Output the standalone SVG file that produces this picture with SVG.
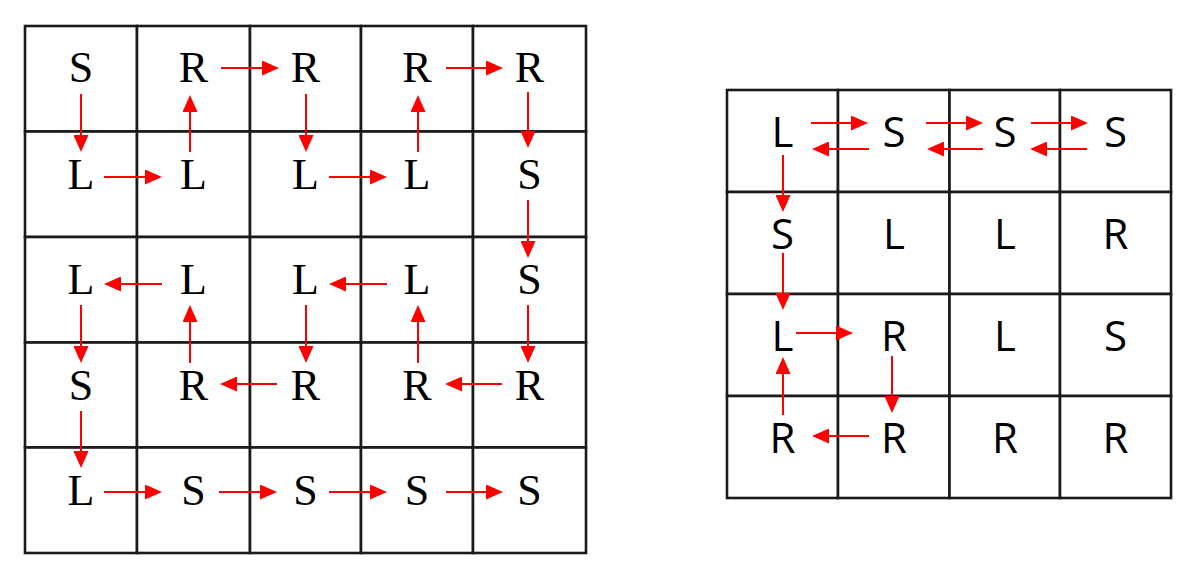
<svg xmlns="http://www.w3.org/2000/svg" width="1200" height="579" viewBox="0 0 1200 579">
<style>
.cell{fill:#fff;stroke:#1a1a1a;stroke-width:2.6}
.l{font-family:"Liberation Serif","Times New Roman",serif;font-size:44px;fill:#000;text-anchor:middle}
.r{font-family:"Open Sans","Noto Sans",sans-serif;font-size:42px;fill:#000;text-anchor:middle}
.a line{stroke:#ff0000;stroke-width:2;marker-end:url(#ah)}
</style>
<defs>
<marker id="ah" markerUnits="userSpaceOnUse" markerWidth="17" markerHeight="15" refX="9" refY="7.5" orient="auto"><path d="M0,0 L17,7.5 L0,15 z" fill="#ff0000"/></marker>
</defs>
<rect width="1200" height="579" fill="#fff"/>
<g id="left-grid">
<g id="L-r1c1"><rect class="cell" x="25" y="26" width="112" height="105.5"/><text class="l" x="81" y="82">S</text></g>
<g id="L-r1c2"><rect class="cell" x="137" y="26" width="113" height="105.5"/><text class="l" x="193.5" y="82">R</text></g>
<g id="L-r1c3"><rect class="cell" x="250" y="26" width="111" height="105.5"/><text class="l" x="305.5" y="82">R</text></g>
<g id="L-r1c4"><rect class="cell" x="361" y="26" width="112" height="105.5"/><text class="l" x="417" y="82">R</text></g>
<g id="L-r1c5"><rect class="cell" x="473" y="26" width="113" height="105.5"/><text class="l" x="529.5" y="82">R</text></g>
<g id="L-r2c1"><rect class="cell" x="25" y="131.5" width="112" height="105.5"/><text class="l" x="81" y="189">L</text></g>
<g id="L-r2c2"><rect class="cell" x="137" y="131.5" width="113" height="105.5"/><text class="l" x="193.5" y="189">L</text></g>
<g id="L-r2c3"><rect class="cell" x="250" y="131.5" width="111" height="105.5"/><text class="l" x="305.5" y="189">L</text></g>
<g id="L-r2c4"><rect class="cell" x="361" y="131.5" width="112" height="105.5"/><text class="l" x="417" y="189">L</text></g>
<g id="L-r2c5"><rect class="cell" x="473" y="131.5" width="113" height="105.5"/><text class="l" x="529.5" y="189">S</text></g>
<g id="L-r3c1"><rect class="cell" x="25" y="237" width="112" height="105.5"/><text class="l" x="81" y="294">L</text></g>
<g id="L-r3c2"><rect class="cell" x="137" y="237" width="113" height="105.5"/><text class="l" x="193.5" y="294">L</text></g>
<g id="L-r3c3"><rect class="cell" x="250" y="237" width="111" height="105.5"/><text class="l" x="305.5" y="294">L</text></g>
<g id="L-r3c4"><rect class="cell" x="361" y="237" width="112" height="105.5"/><text class="l" x="417" y="294">L</text></g>
<g id="L-r3c5"><rect class="cell" x="473" y="237" width="113" height="105.5"/><text class="l" x="529.5" y="294">S</text></g>
<g id="L-r4c1"><rect class="cell" x="25" y="342.5" width="112" height="105"/><text class="l" x="81" y="400">S</text></g>
<g id="L-r4c2"><rect class="cell" x="137" y="342.5" width="113" height="105"/><text class="l" x="193.5" y="400">R</text></g>
<g id="L-r4c3"><rect class="cell" x="250" y="342.5" width="111" height="105"/><text class="l" x="305.5" y="400">R</text></g>
<g id="L-r4c4"><rect class="cell" x="361" y="342.5" width="112" height="105"/><text class="l" x="417" y="400">R</text></g>
<g id="L-r4c5"><rect class="cell" x="473" y="342.5" width="113" height="105"/><text class="l" x="529.5" y="400">R</text></g>
<g id="L-r5c1"><rect class="cell" x="25" y="447.5" width="112" height="105.5"/><text class="l" x="81" y="505">L</text></g>
<g id="L-r5c2"><rect class="cell" x="137" y="447.5" width="113" height="105.5"/><text class="l" x="193.5" y="505">S</text></g>
<g id="L-r5c3"><rect class="cell" x="250" y="447.5" width="111" height="105.5"/><text class="l" x="305.5" y="505">S</text></g>
<g id="L-r5c4"><rect class="cell" x="361" y="447.5" width="112" height="105.5"/><text class="l" x="417" y="505">S</text></g>
<g id="L-r5c5"><rect class="cell" x="473" y="447.5" width="113" height="105.5"/><text class="l" x="529.5" y="505">S</text></g>
</g>
<g id="right-grid">
<g id="R-r1c1"><rect class="cell" x="727" y="90" width="111" height="102"/><text class="r" x="782.5" y="146.5">L</text></g>
<g id="R-r1c2"><rect class="cell" x="838" y="90" width="111.5" height="102"/><text class="r" x="894" y="146.5">S</text></g>
<g id="R-r1c3"><rect class="cell" x="949.5" y="90" width="110.5" height="102"/><text class="r" x="1005" y="146.5">S</text></g>
<g id="R-r1c4"><rect class="cell" x="1060" y="90" width="111" height="102"/><text class="r" x="1115.5" y="146.5">S</text></g>
<g id="R-r2c1"><rect class="cell" x="727" y="192" width="111" height="102"/><text class="r" x="782.5" y="248.5">S</text></g>
<g id="R-r2c2"><rect class="cell" x="838" y="192" width="111.5" height="102"/><text class="r" x="894" y="248.5">L</text></g>
<g id="R-r2c3"><rect class="cell" x="949.5" y="192" width="110.5" height="102"/><text class="r" x="1005" y="248.5">L</text></g>
<g id="R-r2c4"><rect class="cell" x="1060" y="192" width="111" height="102"/><text class="r" x="1115.5" y="248.5">R</text></g>
<g id="R-r3c1"><rect class="cell" x="727" y="294" width="111" height="102"/><text class="r" x="782.5" y="350.5">L</text></g>
<g id="R-r3c2"><rect class="cell" x="838" y="294" width="111.5" height="102"/><text class="r" x="894" y="350.5">R</text></g>
<g id="R-r3c3"><rect class="cell" x="949.5" y="294" width="110.5" height="102"/><text class="r" x="1005" y="350.5">L</text></g>
<g id="R-r3c4"><rect class="cell" x="1060" y="294" width="111" height="102"/><text class="r" x="1115.5" y="350.5">S</text></g>
<g id="R-r4c1"><rect class="cell" x="727" y="396" width="111" height="102"/><text class="r" x="782.5" y="452.5">R</text></g>
<g id="R-r4c2"><rect class="cell" x="838" y="396" width="111.5" height="102"/><text class="r" x="894" y="452.5">R</text></g>
<g id="R-r4c3"><rect class="cell" x="949.5" y="396" width="110.5" height="102"/><text class="r" x="1005" y="452.5">R</text></g>
<g id="R-r4c4"><rect class="cell" x="1060" y="396" width="111" height="102"/><text class="r" x="1115.5" y="452.5">R</text></g>
</g>
<g id="connectors" class="a">
<line x1="221" y1="68" x2="271" y2="68"/>
<line x1="446" y1="68" x2="495" y2="68"/>
<line x1="104" y1="177" x2="154" y2="177"/>
<line x1="329" y1="177" x2="379" y2="177"/>
<line x1="162" y1="284" x2="112" y2="284"/>
<line x1="387" y1="284" x2="337" y2="284"/>
<line x1="277" y1="384" x2="228" y2="384"/>
<line x1="502" y1="384" x2="453" y2="384"/>
<line x1="104" y1="492" x2="154" y2="492"/>
<line x1="219" y1="492" x2="269" y2="492"/>
<line x1="329" y1="492" x2="379" y2="492"/>
<line x1="446" y1="492" x2="495" y2="492"/>
<line x1="81" y1="94" x2="81" y2="144"/>
<line x1="81" y1="305" x2="81" y2="355"/>
<line x1="81" y1="411" x2="81" y2="460"/>
<line x1="190" y1="152" x2="190" y2="103"/>
<line x1="190" y1="363" x2="190" y2="313"/>
<line x1="306" y1="94" x2="306" y2="144"/>
<line x1="306" y1="305" x2="306" y2="355"/>
<line x1="418" y1="152" x2="418" y2="103"/>
<line x1="418" y1="363" x2="418" y2="313"/>
<line x1="528" y1="92" x2="528" y2="140"/>
<line x1="528" y1="200" x2="528" y2="250"/>
<line x1="528" y1="305" x2="528" y2="355"/>
<line x1="811" y1="123" x2="860" y2="123"/>
<line x1="926" y1="123" x2="975" y2="123"/>
<line x1="1031" y1="123" x2="1080" y2="123"/>
<line x1="869" y1="149" x2="820" y2="149"/>
<line x1="983" y1="149" x2="935" y2="149"/>
<line x1="1087" y1="149" x2="1038" y2="149"/>
<line x1="783" y1="155" x2="783" y2="204"/>
<line x1="783" y1="253" x2="783" y2="302"/>
<line x1="796" y1="333" x2="845" y2="333"/>
<line x1="892" y1="356" x2="892" y2="405"/>
<line x1="869" y1="436" x2="820" y2="436"/>
<line x1="783" y1="415" x2="783" y2="365"/>
</g>
</svg>
